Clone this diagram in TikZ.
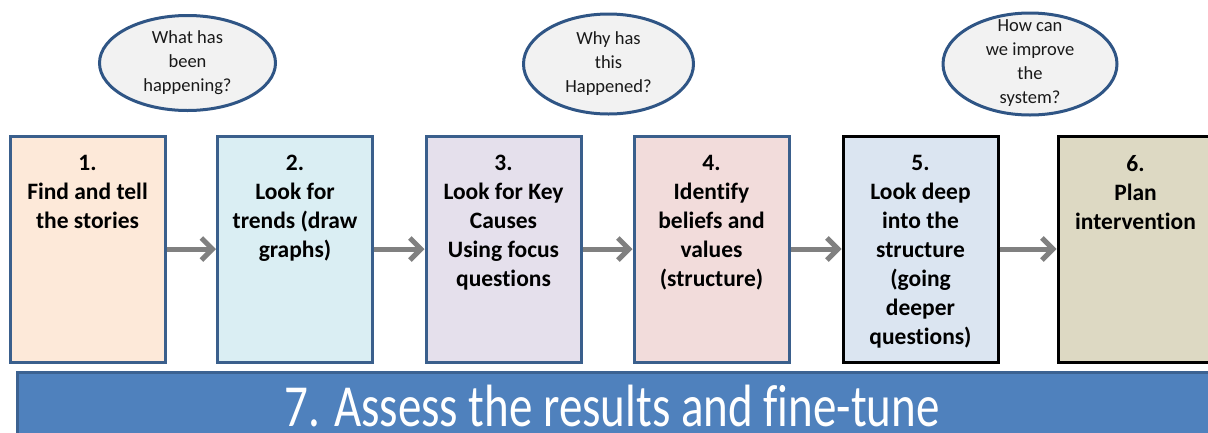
\documentclass[tikz,border=0pt]{standalone}
\usepackage{fontspec}
\setmainfont{Carlito}[Ligatures=NoCommon]
\usetikzlibrary{shapes.geometric,arrows.meta}

\definecolor{edgeblue}{HTML}{3A5F8C}
\definecolor{barblue}{HTML}{4F81BD}
\definecolor{baredge}{HTML}{3C6291}
\definecolor{arrowgray}{HTML}{808080}
\definecolor{fillA}{HTML}{FDE9D9}
\definecolor{fillB}{HTML}{DAEEF3}
\definecolor{fillC}{HTML}{E5E0EC}
\definecolor{fillD}{HTML}{F2DCDB}
\definecolor{fillE}{HTML}{DBE5F1}
\definecolor{fillF}{HTML}{DDD9C3}
\definecolor{bubble}{HTML}{F2F2F2}
\definecolor{bubbleedge}{HTML}{2F5585}

\tikzset{
  stepbox/.style={draw=edgeblue, line width=3pt, rectangle,
    minimum width=155pt, minimum height=226pt, inner sep=0pt},
  darkbox/.style={stepbox, draw=black},
  steptext/.style={anchor=north, inner sep=0pt, align=center,
    font=\fontsize{23.5}{29}\selectfont\bfseries, text=black},
  question/.style={draw=bubbleedge, fill=bubble, line width=3pt, ellipse,
    inner sep=0pt},
  qtext/.style={inner sep=0pt, align=center,
    font=\fontsize{18.5}{24}\selectfont, text=black!90},
  flow/.style={draw=arrowgray, line width=5pt,
    -{Straight Barb[length=11pt, width=22pt, line width=5pt]}},
}

\begin{document}
\begin{tikzpicture}[x=1pt, y=-1pt]
  \useasboundingbox (0,0) rectangle (1208,432);
  \clip (0,0) rectangle (1208,432);

  % process steps
  \node[stepbox, fill=fillA] (b1) at (87.5,249) {};
  \node[stepbox, fill=fillB] (b2) at (295,249) {};
  \node[stepbox, fill=fillC] (b3) at (503.5,249) {};
  \node[stepbox, fill=fillD] (b4) at (711.5,249) {};
  \node[darkbox, fill=fillE] (b5) at (920.5,249) {};
  \node[darkbox, fill=fillF] (b6) at (1135.5,249) {};

  \node[steptext] (t1) at (87.5,155) {1.\\Find and tell\\the stories};
  \node[steptext] (t2) at (295,155) {2.\\Look for\\trends (draw\\graphs)};
  \node[steptext] (t3) at (503.5,155) {3.\\Look for Key\\Causes\\Using focus\\questions};
  \node[steptext] (t4) at (711.5,155) {4.\\Identify\\beliefs and\\values\\(structure)};
  \node[steptext] (t5) at (920.5,155) {5.\\Look deep\\into the\\structure\\(going\\deeper\\questions)};
  \node[steptext] (t6) at (1135.5,155) {6.\\Plan\\intervention};

  % connectors between steps
  \draw[flow] (b1) -- (b2);
  \draw[flow] (b2) -- (b3);
  \draw[flow] (b3) -- (b4);
  \draw[flow] (b4) -- (b5);
  \draw[flow] (b5) -- (b6);

  % guiding questions
  \node[question, minimum width=176pt, minimum height=95pt] (q1) at (187.5,63) {};
  \node[question, minimum width=170pt, minimum height=100pt] (q2) at (608.5,64) {};
  \node[question, minimum width=174pt, minimum height=102pt] (q3) at (1030,64) {};
  \node[qtext] (qt1) at (q1.center) {What has\\been\\happening?};
  \node[qtext] (qt2) at (q2.center) {Why has\\this\\Happened?};
  \node[qtext, yshift=1pt] (qt3) at (q3.center) {How can\\we improve\\the\\system?};

  % final step banner
  \node[draw=baredge, fill=barblue, line width=3pt, rectangle,
        minimum width=1204pt, minimum height=76pt, inner sep=0pt] (b7) at (619,410) {};
  \node[anchor=base, inner sep=0pt, text=white,
        font=\fontsize{47}{50}\selectfont] (t7) at (612,426.5)
        {\scalebox{1}[1.27]{7. Assess the results and fine-tune}};
\end{tikzpicture}
\end{document}
